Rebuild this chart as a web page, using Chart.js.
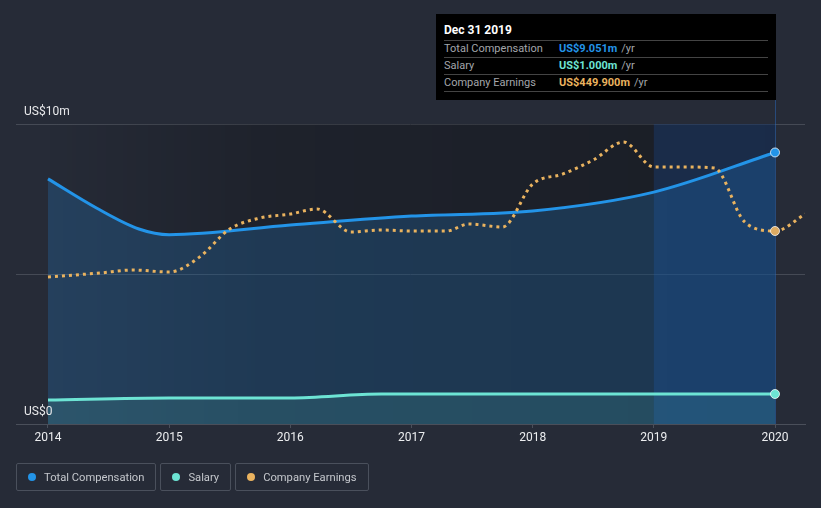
<!DOCTYPE html>
<html>
<head>
<meta charset="utf-8">
<script src="https://cdn.jsdelivr.net/npm/chart.js@4.4.1/dist/chart.umd.min.js"></script>
<style>
  html, body { margin: 0; padding: 0; background: #262b37; }
  #wrap { position: relative; width: 821px; height: 508px; font-family: Roboto, "Noto Sans", sans-serif; }
  #tip { position: absolute; left: 436px; top: 14px; width: 340px; height: 86px; background: #000; box-sizing: border-box; padding: 7px 8px 0 8px; }
  #tip .title { color: #fff; font-weight: bold; font-size: 12px; height: 19px; line-height: 19px; border-bottom: 1px solid #444; }
  #tip .row { font-size: 11px; height: 16px; line-height: 16px; border-bottom: 1px solid #444; display: flex; }
  #tip .lab { color: #a3a6ab; width: 115px; }
  #tip .val { font-weight: bold; }
  #tip .unit { color: #a3a6ab; margin-left: 4px; }
  #legend { position: absolute; left: 16px; top: 463px; display: flex; gap: 4px; }
  .item { border: 1px solid #4a505c; border-radius: 2px; height: 28px; box-sizing: border-box; padding: 0 11px 0 11px; display: flex; align-items: center; color: #c4c7cc; font-size: 11.2px; }
  .dot { width: 8px; height: 8px; border-radius: 50%; margin-right: 8px; }
</style>
</head>
<body>
<div id="wrap">
  <canvas id="myChart"></canvas>
  <div id="tip">
    <div class="title">Dec 31 2019</div>
    <div class="row"><span class="lab">Total Compensation</span><span class="val" style="color:#2394e8">US$9.051m</span><span class="unit">/yr</span></div>
    <div class="row"><span class="lab">Salary</span><span class="val" style="color:#6de4d4">US$1.000m</span><span class="unit">/yr</span></div>
    <div class="row"><span class="lab">Company Earnings</span><span class="val" style="color:#eab35f">US$449.900m</span><span class="unit">/yr</span></div>
  </div>
  <div id="legend">
    <div class="item"><span class="dot" style="background:#2394e8"></span>Total Compensation</div>
    <div class="item"><span class="dot" style="background:#6de4d4"></span>Salary</div>
    <div class="item"><span class="dot" style="background:#eab35f"></span>Company Earnings</div>
  </div>
</div>
<script>
//data
const yearTicks = [2014, 2015, 2016, 2017, 2018, 2019, 2020];

const compYears = [2014, 2014.4, 2014.75, 2015, 2016, 2017, 2018, 2019, 2020];
const compValues = [8.17, 7.2, 6.5, 6.31, 6.63, 6.93, 7.1, 7.73, 9.051];

const salaryYears = [2014, 2015, 2016, 2016.75, 2017, 2018, 2019, 2020];
const salaryValues = [0.8, 0.87, 0.87, 1.0, 1.0, 1.0, 1.0, 1.0];

const earnYears = [2014, 2014.43, 2014.7, 2015, 2015.25, 2015.5, 2015.75, 2016, 2016.22, 2016.5, 2016.75, 2017, 2017.29, 2017.47, 2017.75, 2018, 2018.25, 2018.5, 2018.75, 2019, 2019.25, 2019.5, 2019.75, 2020, 2020.25];
const earnValues = [342.7, 352, 359, 354.3, 389, 454.5, 480.2, 489.5, 501.2, 447.6, 452.2, 449.9, 449.9, 466.2, 459.2, 559.4, 582.8, 615.4, 657.3, 599, 599, 596.7, 470.9, 449.9, 489.5];

const toPoints = (xs, ys) => xs.map((x, i) => ({ x: x, y: ys[i] }));
const lastMark = (c) => (c.raw && c.raw.x === 2020 ? 4.5 : 0);

const backdrop = {
    id: 'backdrop',
    beforeDatasetsDraw(chart) {
        const { ctx, chartArea } = chart;
        const xs = chart.scales.x;
        const x0 = xs.getPixelForValue(2014);
        const x19 = xs.getPixelForValue(2019);
        const x20 = xs.getPixelForValue(2020);
        const g = ctx.createLinearGradient(x0, 0, x20, 0);
        g.addColorStop(0, 'rgba(0,0,0,0)');
        g.addColorStop(0.3, 'rgba(0,0,0,0.2)');
        g.addColorStop(1, 'rgba(0,0,0,0.3)');
        ctx.save();
        ctx.fillStyle = g;
        ctx.fillRect(x0, chartArea.top, x20 - x0, chartArea.bottom - chartArea.top);
        ctx.fillStyle = 'rgba(25,80,160,0.28)';
        ctx.fillRect(x19, chartArea.top, x20 - x19, chartArea.bottom - chartArea.top);
        ctx.strokeStyle = 'rgba(40,100,180,0.55)';
        ctx.lineWidth = 1;
        ctx.beginPath();
        ctx.moveTo(x20 + 0.5, 100);
        ctx.lineTo(x20 + 0.5, chartArea.bottom);
        ctx.stroke();
        ctx.restore();
    },
    afterDatasetsDraw(chart) {
        const { ctx } = chart;
        const ys = chart.scales.y;
        ctx.save();
        ctx.fillStyle = '#e8e9eb';
        ctx.font = '12px Roboto';
        ctx.textBaseline = 'middle';
        ctx.fillText('US$10m', 24, ys.getPixelForValue(10) - 12);
        ctx.fillText('US$0', 24, ys.getPixelForValue(0) - 12);
        ctx.restore();
    }
};

const ctx = document.getElementById('myChart').getContext('2d');
const chart = new Chart(ctx, {
    type: 'line',
    data: {
        datasets: [
            {
                label: 'Company Earnings',
                data: toPoints(earnYears, earnValues),
                yAxisID: 'y2',
                borderColor: '#eab35f',
                borderWidth: 3,
                borderDash: [3, 4],
                pointRadius: lastMark,
                pointBackgroundColor: '#dcaa62',
                pointBorderColor: 'rgba(255,255,255,0.75)',
                pointBorderWidth: 1,
                cubicInterpolationMode: 'monotone',
                fill: false
            },
            {
                label: 'Salary',
                data: toPoints(salaryYears, salaryValues),
                borderColor: '#6de4d4',
                borderWidth: 3,
                backgroundColor: 'rgba(94,224,208,0.13)',
                pointRadius: lastMark,
                pointBackgroundColor: '#6de4d4',
                pointBorderColor: 'rgba(255,255,255,0.75)',
                pointBorderWidth: 1,
                cubicInterpolationMode: 'monotone',
                fill: 'origin'
            },
            {
                label: 'Total Compensation',
                data: toPoints(compYears, compValues),
                borderColor: '#2394e8',
                borderWidth: 3,
                backgroundColor: 'rgba(33,150,243,0.2)',
                pointRadius: lastMark,
                pointBackgroundColor: '#2394e8',
                pointBorderColor: 'rgba(255,255,255,0.75)',
                pointBorderWidth: 1,
                cubicInterpolationMode: 'monotone',
                fill: 'origin'
            }
        ]
    },
    options: {
        responsive: true, maintainAspectRatio: false, animation: false,
        layout: { padding: { left: 16, right: 16, top: 124, bottom: 0 } },
        plugins: { legend: { display: false }, tooltip: { enabled: false } },
        events: [],
        scales: {
            x: {
                type: 'linear', min: 2013.736, max: 2020.2475,
                afterBuildTicks: (axis) => { axis.ticks = yearTicks.map(v => ({ value: v })); },
                afterFit: (axis) => { axis.height = 84; },
                ticks: { color: '#eceef0', font: { family: 'Roboto', size: 12 }, padding: 3, callback: v => String(v), maxRotation: 0 },
                grid: { drawOnChartArea: false, tickLength: 4, color: '#4a4f5a' },
                border: { color: '#4a4f5a' }
            },
            y: {
                min: 0, max: 10,
                afterBuildTicks: (axis) => { axis.ticks = [0, 5, 10].map(v => ({ value: v })); },
                afterFit: (axis) => { axis.width = 0; },
                ticks: { display: false },
                grid: { color: '#454a55', drawTicks: false },
                border: { display: false }
            },
            y2: { display: false, min: 0, max: 699.3 }
        }
    },
    plugins: [backdrop]
});
</script>
</body>
</html>
